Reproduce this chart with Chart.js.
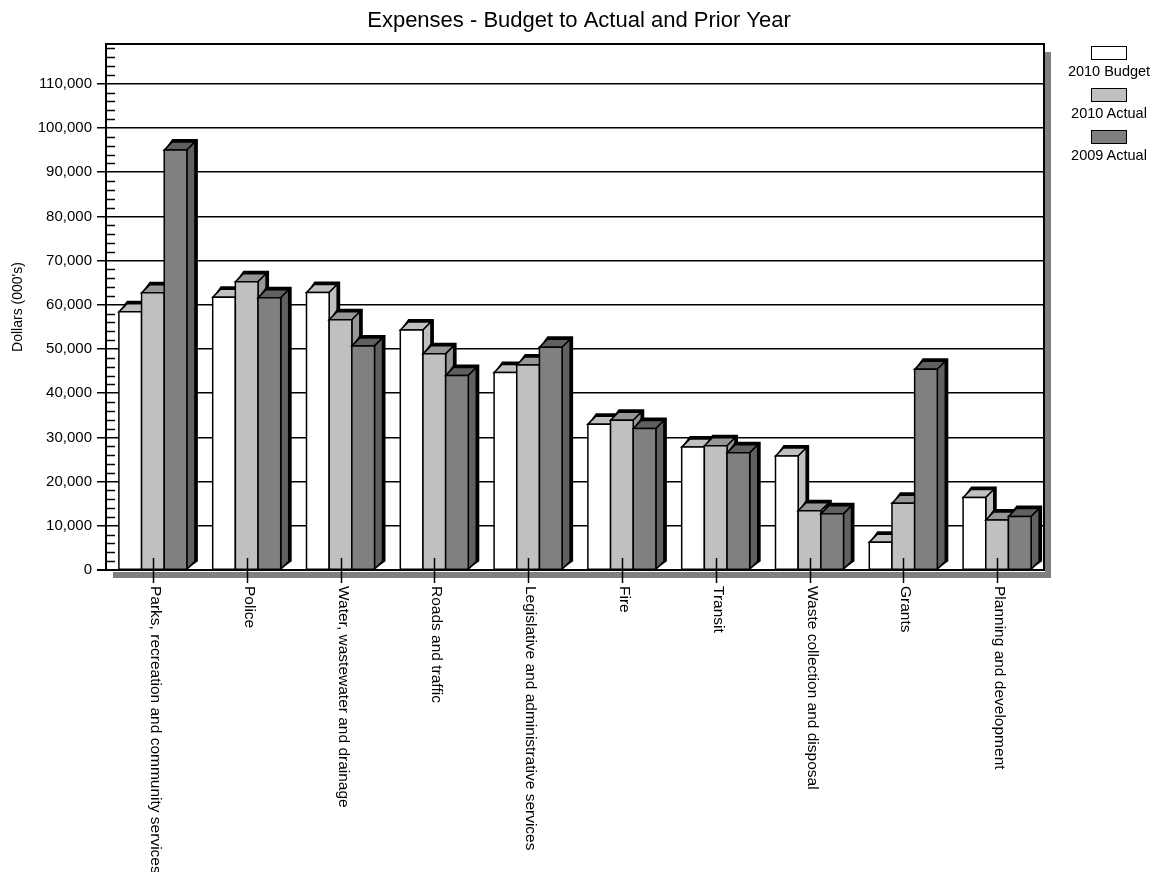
<!DOCTYPE html>
<html>
<head>
<meta charset="utf-8">
<script src="https://cdn.jsdelivr.net/npm/chart.js@4/dist/chart.umd.min.js"></script>
<style>
  body { margin: 0; background: #fff; font-family: "Liberation Sans", Arial, sans-serif; }
  #wrap { position: relative; width: 1154px; height: 872px; }
  #legend { position: absolute; left: 1064px; top: 46px; width: 90px; }
  .item { height: 42px; text-align: center; }
  .swatch { width: 34px; height: 12px; border: 1.5px solid #000; margin: 0 auto; }
  .label { font-size: 14.5px; line-height: 17px; margin-top: 3px; color: #000; white-space: nowrap; }
</style>
</head>
<body>
<div id="wrap">
  <canvas id="expenseChart" width="1154" height="872"></canvas>
  <div id="legend"></div>
</div>
<script>
const chartTitle = "Expenses - Budget to Actual and Prior Year";

const categories = [
    "Parks, recreation and community services",
    "Police",
    "Water, wastewater and drainage",
    "Roads and traffic",
    "Legislative and administrative services",
    "Fire",
    "Transit",
    "Waste collection and disposal",
    "Grants",
    "Planning and development"
];

const seriesNames = ["2010 Budget", "2010 Actual", "2009 Actual"];

const budget2010 = [58400, 61700, 62800, 54300, 44700, 33000, 27800, 25800, 6300, 16400];
const actual2010 = [62700, 65200, 56600, 48900, 46400, 33900, 28100, 13400, 15100, 11300];
const actual2009 = [95000, 61600, 50700, 44000, 50400, 32000, 26500, 12700, 45400, 12100];

const yTicks = [0, 10000, 20000, 30000, 40000, 50000, 60000, 70000, 80000, 90000, 100000, 110000];
const yMax = 119000;

const frontColors = ["#ffffff", "#c0c0c0", "#808080"];
const shadeColors = ["#c0c0c0", "#969696", "#606060"];

const FONT = "'Liberation Sans', Arial, sans-serif";

// legend: swatch above the name
const legendEl = document.getElementById("legend");
seriesNames.forEach((name, i) => {
    const item = document.createElement("div");
    item.className = "item";
    item.innerHTML = '<div class="swatch" style="background:' + frontColors[i] +
        '"></div><div class="label">' + name + '</div>';
    legendEl.appendChild(item);
});

function poly(ctx, pts, fill, stroke, lw) {
    ctx.beginPath();
    ctx.moveTo(pts[0][0], pts[0][1]);
    for (let i = 1; i < pts.length; i++) ctx.lineTo(pts[i][0], pts[i][1]);
    ctx.closePath();
    if (fill) { ctx.fillStyle = fill; ctx.fill(); }
    if (stroke) { ctx.strokeStyle = stroke; ctx.lineWidth = lw; ctx.stroke(); }
}

// draws the bars as boxes, category by category, so each bar covers the side of the one before
const bar3d = {
    id: "bar3d",
    beforeDatasetsDraw(chart) {
        const ctx = chart.ctx;
        const d = 8, s = 3;
        const metas = chart.data.datasets.map((ds, i) => chart.getDatasetMeta(i));
        ctx.save();
        ctx.lineJoin = "miter";
        for (let c = 0; c < categories.length; c++) {
            metas.forEach((meta, k) => {
                const p = meta.data[c].getProps(["x", "y", "base", "width"], true);
                const l = p.x - p.width / 2, r = p.x + p.width / 2;
                const t = p.y, b = p.base;
                // dark rim behind the box
                poly(ctx, [[l, t], [l + d, t - d - s], [r + d + s, t - d - s],
                           [r + d + s, b - d], [r, b]], "#000");
                // top
                poly(ctx, [[l, t], [l + d, t - d], [r + d, t - d], [r, t]],
                     shadeColors[k], "#000", 1.5);
                // side
                poly(ctx, [[r, t], [r + d, t - d], [r + d, b - d], [r, b]],
                     shadeColors[k], "#000", 1.5);
                // front
                poly(ctx, [[l, t], [r, t], [r, b], [l, b]],
                     frontColors[k], "#000", 1.5);
            });
        }
        ctx.restore();
        return false;
    },
    afterDraw(chart) {
        const ctx = chart.ctx;
        const a = chart.chartArea;
        const xs = chart.scales.x, ys = chart.scales.y;
        ctx.save();

        // title, centred on the whole page rather than the plot
        ctx.font = "22px " + FONT;
        ctx.fillStyle = "#000";
        ctx.textAlign = "center";
        ctx.textBaseline = "middle";
        ctx.fillText(chartTitle, 579, 21);

        // grey drop shadow of the frame
        ctx.fillStyle = "#808080";
        ctx.fillRect(a.right + 1, a.top + 8, 6, a.bottom - a.top);
        ctx.fillRect(a.left + 7, a.bottom + 2, a.right - a.left, 6);

        // frame
        ctx.strokeStyle = "#000";
        ctx.lineWidth = 2;
        ctx.beginPath();
        ctx.moveTo(a.left, a.bottom);
        ctx.lineTo(a.left, a.top);
        ctx.lineTo(a.right, a.top);
        ctx.lineTo(a.right, a.bottom);
        ctx.stroke();
        ctx.beginPath();
        ctx.moveTo(a.left - 9, a.bottom);
        ctx.lineTo(a.right + 1, a.bottom);
        ctx.stroke();

        // minor ticks on the value axis
        ctx.lineWidth = 1.5;
        for (let v = 2000; v < yMax; v += 2000) {
            if (v % 10000 === 0) continue;
            const py = Math.round(ys.getPixelForValue(v)) + 0.5;
            ctx.beginPath();
            ctx.moveTo(a.left, py);
            ctx.lineTo(a.left + 9, py);
            ctx.stroke();
        }

        // category ticks and rotated labels
        ctx.font = "15.5px " + FONT;
        ctx.fillStyle = "#000";
        ctx.textAlign = "left";
        ctx.textBaseline = "middle";
        categories.forEach((name, i) => {
            const px = Math.round(xs.getPixelForTick(i)) + 0.5;
            ctx.lineWidth = 1.5;
            ctx.beginPath();
            ctx.moveTo(px, a.bottom - 12);
            ctx.lineTo(px, a.bottom + 13);
            ctx.stroke();
            ctx.save();
            ctx.translate(px + 1.5, a.bottom + 16);
            ctx.rotate(Math.PI / 2);
            ctx.fillText(name, 0, 0);
            ctx.restore();
        });
        ctx.restore();
    }
};

new Chart(document.getElementById("expenseChart"), {
    type: "bar",
    data: {
        labels: categories,
        datasets: [
            { label: seriesNames[0], data: budget2010, backgroundColor: frontColors[0] },
            { label: seriesNames[1], data: actual2010, backgroundColor: frontColors[1] },
            { label: seriesNames[2], data: actual2009, backgroundColor: frontColors[2] }
        ]
    },
    options: {
        responsive: false,
        animation: false,
        devicePixelRatio: 1,
        categoryPercentage: 0.725,
        barPercentage: 1.0,
        layout: { padding: { left: 0, right: 110, top: 44, bottom: 0 } },
        plugins: {
            legend: { display: false },
            tooltip: { enabled: false },
            title: { display: false }
        },
        scales: {
            x: {
                grid: { display: false },
                border: { display: false },
                ticks: { display: false },
                afterFit(scale) { scale.height = 302; }
            },
            y: {
                min: 0,
                max: yMax,
                afterBuildTicks(scale) {
                    scale.ticks = yTicks.concat([yMax]).map(v => ({ value: v }));
                },
                ticks: {
                    color: "#000",
                    padding: 5,
                    font: { family: FONT, size: 15 },
                    callback: v => (yTicks.includes(v) ? v.toLocaleString("en-US") : "")
                },
                grid: {
                    color: "#000",
                    lineWidth: 1.5,
                    tickLength: 9,
                    tickColor: ctx => (ctx.tick && ctx.tick.value === yMax ? "rgba(0,0,0,0)" : "#000")
                },
                border: { display: true, color: "#000", width: 2 },
                title: {
                    display: true,
                    text: "Dollars (000's)",
                    color: "#000",
                    font: { family: FONT, size: 14 },
                    padding: { top: 10, bottom: 0 }
                },
                afterFit(scale) { scale.width = 106; }
            }
        }
    },
    plugins: [bar3d]
});
</script>
</body>
</html>
